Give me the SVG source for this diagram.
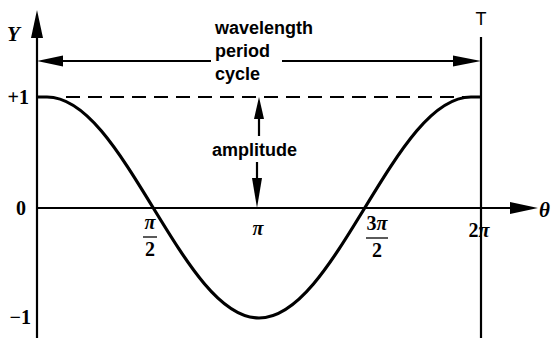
<svg xmlns="http://www.w3.org/2000/svg" width="551" height="341" viewBox="0 0 551 341">
<style>
.ax{stroke:#000;stroke-width:2.2;fill:none}
.hd{fill:#000;stroke:none}
.lbl{font-family:"Liberation Sans",Arial,sans-serif;font-weight:bold;font-size:18px;fill:#000}
.num{font-family:"Liberation Serif","Times New Roman",serif;font-weight:bold;font-size:20px;fill:#000}
.it{font-family:"Liberation Serif","Times New Roman",serif;font-style:italic;font-weight:bold;font-size:21px;fill:#000}
</style>
<rect width="551" height="341" fill="#fff"/>
<g id="axes">
<line class="ax" x1="37" y1="30" x2="37" y2="338"/>
<polygon class="hd" points="37,10 31,38 43,38"/>
<line class="ax" x1="37" y1="208" x2="515" y2="208"/>
<polygon class="hd" points="538,208 510,202 510,214"/>
<line class="ax" x1="481" y1="37" x2="481" y2="338"/>
<text class="it" x="7" y="41">Y</text>
<text class="it" x="539" y="217" font-weight="normal">θ</text>
<text x="481" y="25" text-anchor="middle" font-family="Liberation Sans,Arial,sans-serif" font-size="18" fill="#000">T</text>
</g>
<g id="ylabels">
<text class="num" x="29" y="104" text-anchor="end">+1</text>
<text class="num" x="26" y="215" text-anchor="end">0</text>
<text class="num" x="31" y="324" text-anchor="end">−1</text>
</g>
<g id="xlabels">
<text class="num" x="150" y="229" text-anchor="middle" font-style="italic">π</text>
<line x1="143" y1="237" x2="157" y2="237" stroke="#000" stroke-width="1.3"/>
<text class="num" x="150" y="256" text-anchor="middle" font-weight="normal">2</text>
<text class="num" x="258" y="235" text-anchor="middle" font-style="italic">π</text>
<text class="num" x="377" y="230" text-anchor="middle" font-weight="normal">3<tspan font-style="italic">π</tspan></text>
<line x1="366" y1="238" x2="388" y2="238" stroke="#000" stroke-width="1.3"/>
<text class="num" x="377" y="257" text-anchor="middle" font-weight="normal">2</text>
<text class="num" x="479" y="237" text-anchor="middle">2<tspan font-style="italic">π</tspan></text>
</g>
<g id="curve">
<path d="M37,97 L47,97 C85.4,97 118.4,150.9 153,207.5 C187.6,264.1 220.6,318 259,318 C297.4,318 330.4,264.1 365,207.5 C399.6,150.9 432.6,97 471,97 L481,97" stroke="#000" stroke-width="3.2" fill="none"/>
</g>
<g id="amplitude-line">
<line x1="66" y1="97" x2="470" y2="97" stroke="#000" stroke-width="2" stroke-dasharray="14 8"/>
</g>
<g id="wavelength">
<line class="ax" x1="60" y1="61" x2="211" y2="61"/>
<line class="ax" x1="282" y1="61" x2="455" y2="61"/>
<polygon class="hd" points="37,61 63,55.5 63,66.5"/>
<polygon class="hd" points="481,61 453,55.5 453,66.5"/>
<text class="lbl" x="215" y="34">wavelength</text>
<text class="lbl" x="215" y="57">period</text>
<text class="lbl" x="215" y="80">cycle</text>
</g>
<g id="amplitude">
<polygon class="hd" points="259,97 254,119 264,119"/>
<line class="ax" x1="259" y1="115" x2="259" y2="136"/>
<text class="lbl" x="212" y="156">amplitude</text>
<line class="ax" x1="257" y1="162" x2="257" y2="182"/>
<polygon class="hd" points="257,208 252,178 262,178"/>
</g>
</svg>
